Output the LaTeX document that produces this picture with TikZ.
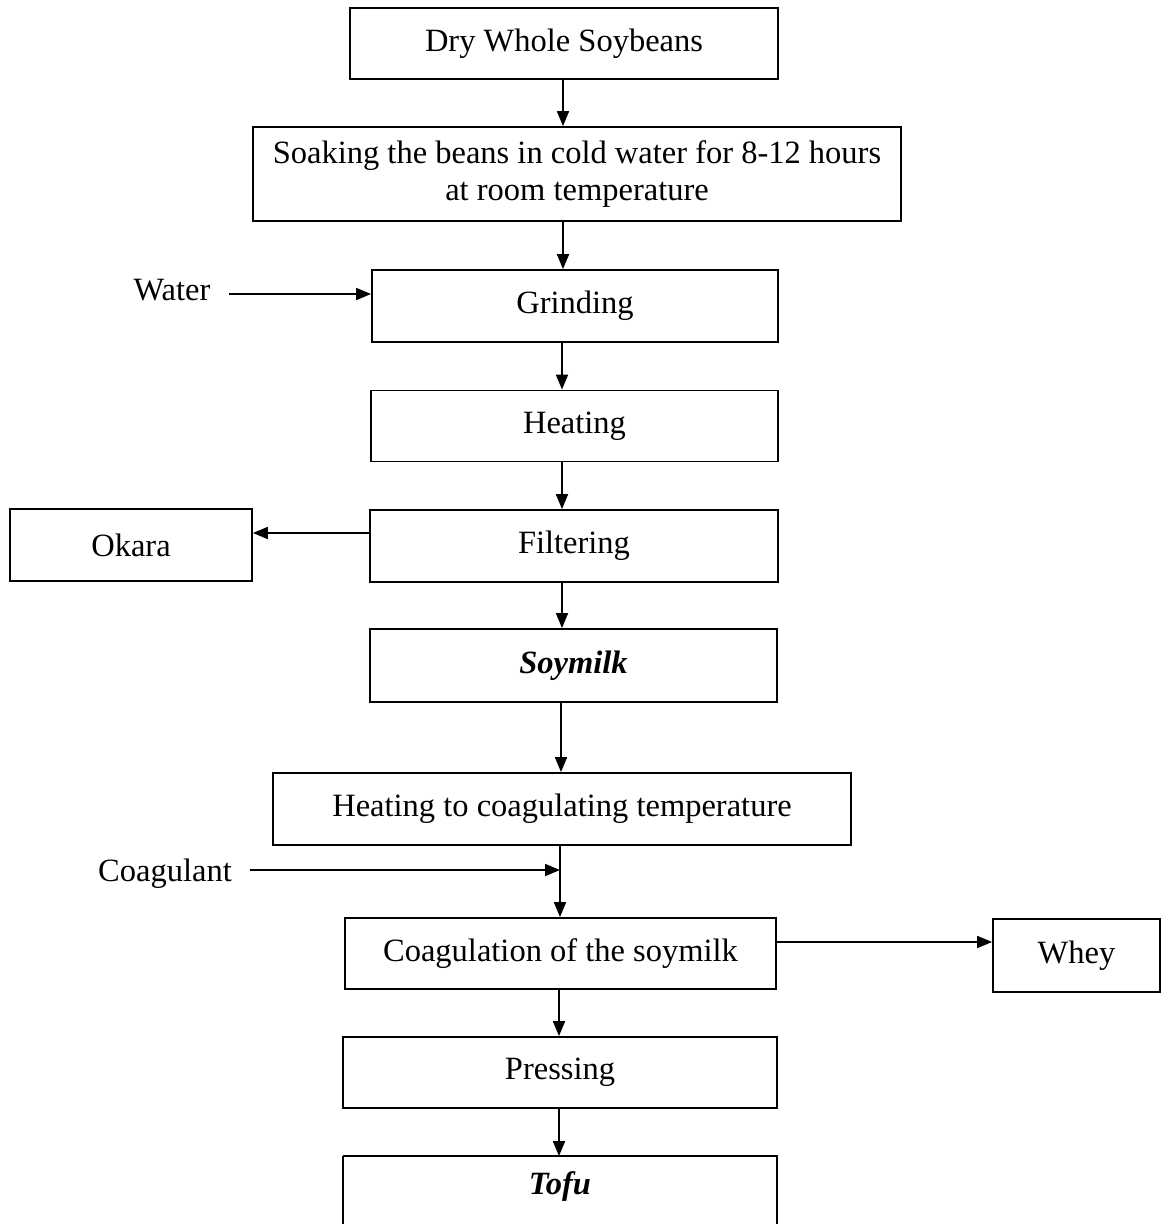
\documentclass[tikz,border=0pt]{standalone}
\usepackage{fontspec}
\setmainfont{Liberation Serif}
\usetikzlibrary{arrows.meta,calc}
\begin{document}
\begin{tikzpicture}[x=1pt,y=-1pt,
  box/.style={draw,line width=1.8pt,rectangle,inner sep=0pt,align=center,font=\fontsize{32.5}{37}\selectfont},
  lbl/.style={inner sep=0pt,font=\fontsize{32.5}{37}\selectfont},
  arr/.style={line width=1.8pt,-{Triangle[length=15pt,width=12pt]}},
  ln/.style={line width=1.8pt}]
\useasboundingbox (0,0) rectangle (1161,1224);
\clip (0,0) rectangle (1161,1224);
\fill[white] (0,0) rectangle (1161,1224);
\node[box,minimum width=428,minimum height=71] (dry) at (564,43.5) {Dry Whole Soybeans};
\node[box,minimum width=648,minimum height=94] (soak) at (577,174) {Soaking the beans in cold water for 8-12 hours\\at room temperature};
\node[box,minimum width=406,minimum height=72] (grind) at (575,306) {Grinding};
\node[box,minimum width=407,minimum height=71] (heat) at (574.5,426) {Heating};
\node[box,minimum width=408,minimum height=72] (filt) at (574,546) {Filtering};
\node[box,minimum width=242,minimum height=72] (okara) at (131,545) {Okara};
\node[box,minimum width=407,minimum height=73] (soy) at (573.5,665.5) {\textbf{\textit{Soymilk}}};
\node[box,minimum width=578,minimum height=72] (hcoag) at (562,809) {Heating to coagulating temperature};
\node[box,minimum width=431,minimum height=71] (coag) at (560.5,953.5) {Coagulation of the soymilk};
\node[box,minimum width=167,minimum height=73] (whey) at (1076.5,955.5) {Whey};
\node[box,minimum width=434,minimum height=71] (press) at (560,1072.5) {Pressing};
\node[box,draw=none,minimum width=432,minimum height=60] (tofu) at (560,1187) {\textbf{\textit{Tofu}}};
\draw[ln] (tofu.south west) -- ++(0,40) (tofu.north west) -- (tofu.north east) -- ++(0,100);
\draw[ln] (tofu.south west) -- (tofu.north west);
\node[lbl] (water) at (172,290) {Water};
\node[lbl] (coagulant) at (165,874) {Coagulant};
\coordinate (wst) at (229,294);
\coordinate (cst) at (250,870);
\coordinate (cj) at (560,870);
% vertical flow
\draw[arr] (dry.south -| 563,0) -- (soak.north -| 563,0);
\draw[arr] (soak.south -| 563,0) -- (grind.north -| 563,0);
\draw[arr] (grind.south -| 562,0) -- (heat.north -| 562,0);
\draw[arr] (heat.south -| 562,0) -- (filt.north -| 562,0);
\draw[arr] (filt.south -| 562,0) -- (soy.north -| 562,0);
\draw[arr] (soy.south -| 561,0) -- (hcoag.north -| 561,0);
\draw[arr] (hcoag.south -| cj) -- (coag.north -| cj);
\draw[arr] (coag.south -| 559,0) -- (press.north -| 559,0);
\draw[arr] (press.south -| 559,0) -- (tofu.north -| 559,0);
% side flows
\draw[arr] (wst) -- (grind.west |- wst);
\draw[arr] (filt.west |- 0,533) -- (okara.east |- 0,533);
\draw[arr] (cst) -- (cj);
\draw[arr] (coag.east |- 0,942) -- (whey.west |- 0,942);
\end{tikzpicture}
\end{document}
